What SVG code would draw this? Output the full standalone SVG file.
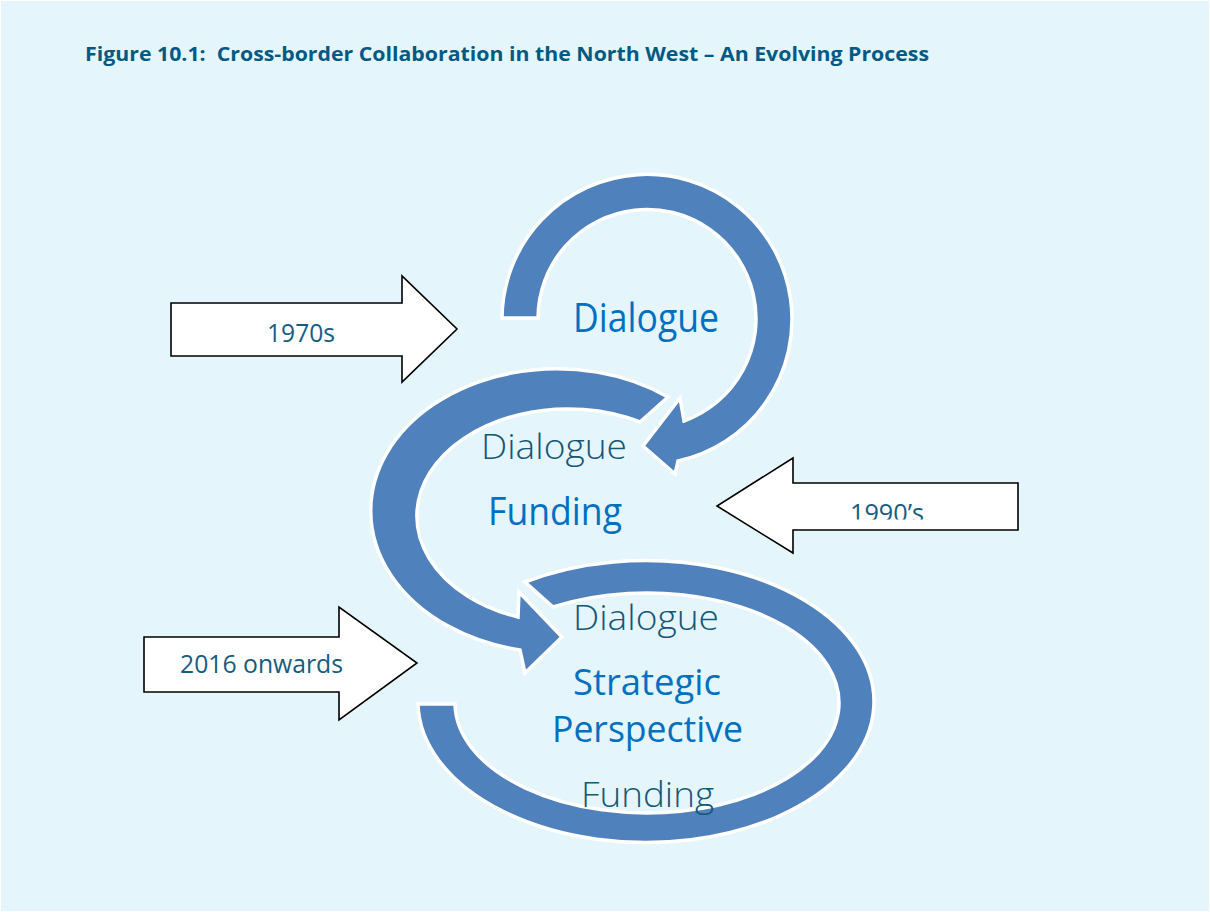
<svg xmlns="http://www.w3.org/2000/svg" width="1210" height="912" viewBox="0 0 1210 912">
<style>
.band{fill:#4F81BD;stroke:#FFFFFF;stroke-width:3.5;stroke-linejoin:miter}
.blk{fill:#FFFFFF;stroke:#000000;stroke-width:1.6;stroke-linejoin:miter}
.t{font-family:"Open Sans","Noto Sans",sans-serif}
.blue{fill:#0070C0}
.teal{fill:#155777;font-weight:300}
.lab{fill:#175C7E;font-size:25px}
</style>
<defs>
<clipPath id="clip90"><rect x="840" y="490" width="100" height="29.5"/></clipPath>
</defs>
<rect x="0" y="0" width="1210" height="912" fill="#E4F5FC" stroke="#FFFFFF" stroke-width="2"/>
<text class="t" x="85" y="61" font-size="19" font-weight="bold" fill="#005A84" textLength="844" lengthAdjust="spacingAndGlyphs">Figure 10.1:&#160; Cross-border Collaboration in the North West – An Evolving Process</text>
<g id="connectors">
<path id="band-2016" class="band" d="M 525 582 A 228 141 0 1 1 418 704 L 455 704 A 192 110 0 1 0 553 607 Z"/>
<path id="band-1990" class="band" d="M 668 397 A 186 142 0 1 0 520 650 L 525 673 L 562 637 L 519 592 L 518 617 A 151 107 0 1 1 640 422 Z"/>
<path id="band-1970" class="band" d="M 502 318 A 145 145 0 1 1 678 461 L 675 474 L 643 446 L 680 398 L 684 421 A 109 109 0 1 0 538 318 Z"/>
</g>
<g id="arrow-1970s">
<polygon class="blk" points="171,303 402,303 402,276 457,329 402,382 402,356 171,356"/>
<text class="t lab" x="267" y="342" textLength="68" lengthAdjust="spacingAndGlyphs">1970s</text>
</g>
<g id="arrow-1990s">
<polygon class="blk" points="1018,483 793,483 793,458 717,506 793,553 793,530 1018,530"/>
<text class="t lab" x="850" y="522" textLength="74" lengthAdjust="spacingAndGlyphs" clip-path="url(#clip90)">1990’s</text>
</g>
<g id="arrow-2016">
<polygon class="blk" points="144,637 339,637 339,607 417,663 339,720 339,692 144,692"/>
<text class="t lab" x="180" y="673" textLength="163" lengthAdjust="spacingAndGlyphs">2016 onwards</text>
</g>
<g id="stage-1970s">
<text class="t blue" x="573" y="332" font-size="40" textLength="146" lengthAdjust="spacingAndGlyphs">Dialogue</text>
</g>
<g id="stage-1990s">
<text class="t teal" x="481" y="459" font-size="34" textLength="146" lengthAdjust="spacingAndGlyphs">Dialogue</text>
<text class="t blue" x="488" y="525" font-size="38" textLength="134" lengthAdjust="spacingAndGlyphs">Funding</text>
</g>
<g id="stage-2016">
<text class="t teal" x="573" y="630" font-size="35" textLength="146" lengthAdjust="spacingAndGlyphs">Dialogue</text>
<text class="t blue" x="573" y="695" font-size="37" textLength="148" lengthAdjust="spacingAndGlyphs">Strategic</text>
<text class="t blue" x="552" y="742" font-size="36" textLength="191" lengthAdjust="spacingAndGlyphs">Perspective</text>
<text class="t teal" x="581" y="807" font-size="35" textLength="133" lengthAdjust="spacingAndGlyphs">Funding</text>
</g>
</svg>
